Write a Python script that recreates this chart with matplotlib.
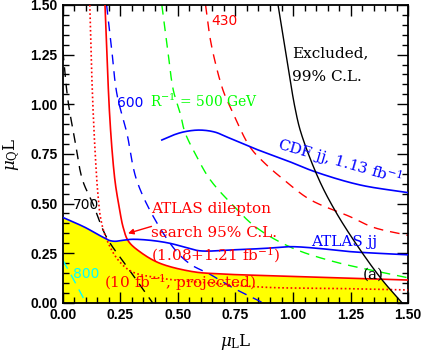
import numpy as np
import matplotlib
matplotlib.use("Agg")
import matplotlib.pyplot as plt

plt.rcParams['font.family'] = 'DejaVu Serif'
plt.rcParams['mathtext.fontset'] = 'dejavuserif'

# ATLAS dilepton 95% C.L. (red solid)
dil_x = [0.183, 0.193, 0.203, 0.215, 0.228, 0.245, 0.262, 0.285, 0.335, 0.42, 0.565, 0.68, 0.89, 1.1, 1.38, 1.5]
dil_y = [1.5, 1.2, 0.95, 0.75, 0.60, 0.48, 0.38, 0.31, 0.257, 0.20, 0.157, 0.146, 0.137, 0.13, 0.12, 0.115]

# 10 fb^-1 projected (red dotted)
proj_x = [0.117, 0.124, 0.132, 0.142, 0.152, 0.165, 0.19, 0.24, 0.30, 0.42, 0.68, 0.89, 1.22, 1.5]
proj_y = [1.5, 1.2, 0.95, 0.72, 0.55, 0.42, 0.32, 0.216, 0.157, 0.125, 0.096, 0.078, 0.072, 0.065]

# ATLAS jj (blue solid)
ajj_x = [0.0, 0.05, 0.10, 0.14, 0.175, 0.20, 0.226, 0.26, 0.30, 0.38, 0.465, 0.53, 0.596, 0.74, 0.887, 0.987, 1.104, 1.248, 1.5]
ajj_y = [0.43, 0.405, 0.378, 0.352, 0.33, 0.315, 0.31, 0.315, 0.32, 0.315, 0.30, 0.28, 0.262, 0.267, 0.275, 0.283, 0.275, 0.258, 0.242]

# CDF jj 1.13 fb^-1 (blue solid)
cdf_x = [0.43, 0.48, 0.53, 0.595, 0.66, 0.713, 0.826, 0.987, 1.096, 1.29, 1.5]
cdf_y = [0.82, 0.845, 0.862, 0.87, 0.86, 0.835, 0.78, 0.71, 0.66, 0.594, 0.555]

# Excluded 99% C.L. (black solid)
exc_x = [0.935, 0.978, 1.009, 1.035, 1.113, 1.19, 1.29, 1.387, 1.474]
exc_y = [1.5, 1.19, 0.98, 0.855, 0.62, 0.45, 0.27, 0.116, 0.0]

# R^-1 contours (dashed)
r430_x = [0.62, 0.645, 0.696, 0.73, 0.813, 0.88, 0.96, 1.074, 1.248, 1.35, 1.5]
r430_y = [1.5, 1.3, 1.07, 0.98, 0.785, 0.70, 0.62, 0.52, 0.434, 0.38, 0.34]
r500_x = [0.43, 0.455, 0.48, 0.51, 0.53, 0.58, 0.64, 0.74, 0.84, 0.99, 1.17, 1.5]
r500_y = [1.5, 1.28, 1.07, 0.955, 0.86, 0.74, 0.62, 0.49, 0.38, 0.28, 0.21, 0.126]
r600_x = [0.19, 0.21, 0.235, 0.278, 0.32, 0.40, 0.495, 0.56, 0.63, 0.68, 0.74, 0.85, 0.87]
r600_y = [1.5, 1.3, 1.05, 0.855, 0.62, 0.42, 0.257, 0.19, 0.15, 0.116, 0.075, 0.012, 0.0]
r700_x = [0.0, 0.022, 0.052, 0.085, 0.13, 0.19, 0.28, 0.39]
r700_y = [1.27, 1.02, 0.82, 0.62, 0.50, 0.33, 0.18, 0.0]
r800_x = [0.0, 0.05, 0.10]
r800_y = [0.215, 0.11, 0.0]


def smooth(x, y, n=25):
    # centripetal Catmull-Rom through the read points, for drawing only
    p = np.column_stack([x, y]).astype(float)
    p = np.vstack([2 * p[0] - p[1], p, 2 * p[-1] - p[-2]])
    out = [p[1]]
    for i in range(1, len(p) - 2):
        p0, p1, p2, p3 = p[i - 1], p[i], p[i + 1], p[i + 2]
        t0 = 0.0
        t1 = t0 + np.linalg.norm(p1 - p0) ** 0.5
        t2 = t1 + np.linalg.norm(p2 - p1) ** 0.5
        t3 = t2 + np.linalg.norm(p3 - p2) ** 0.5
        t = np.linspace(t1, t2, n)[1:, None]
        a1 = (t1 - t) / (t1 - t0) * p0 + (t - t0) / (t1 - t0) * p1
        a2 = (t2 - t) / (t2 - t1) * p1 + (t - t1) / (t2 - t1) * p2
        a3 = (t3 - t) / (t3 - t2) * p2 + (t - t2) / (t3 - t2) * p3
        b1 = (t2 - t) / (t2 - t0) * a1 + (t - t0) / (t2 - t0) * a2
        b2 = (t3 - t) / (t3 - t1) * a2 + (t - t1) / (t3 - t1) * a3
        c = (t2 - t) / (t2 - t1) * b1 + (t - t1) / (t2 - t1) * b2
        out.extend(c)
    out = np.array(out)
    return out[:, 0], out[:, 1]


fig = plt.figure(figsize=(4.22, 3.53), dpi=100)
ax = fig.add_axes([0.149, 0.142, 0.818, 0.844])

dx, dy = smooth(dil_x, dil_y)
px_, py_ = smooth(proj_x, proj_y)
jx, jy = smooth(ajj_x, ajj_y)
cx, cy = smooth(cdf_x, cdf_y)
ex, ey = smooth(exc_x, exc_y)

# yellow: below ATLAS jj, ATLAS dilepton and the excluded line
xx = np.linspace(0, 1.5, 800)
o = np.argsort(jx)
top = np.interp(xx, jx[o], jy[o])
o = np.argsort(dx)
top = np.minimum(top, np.interp(xx, dx[o], dy[o], left=10))
o = np.argsort(ex)
top = np.minimum(top, np.interp(xx, ex[o], ey[o], left=10, right=0))
ax.fill_between(xx, 0, top, color='#ffff00', lw=0, zorder=1)

lw = 1.2
ax.plot(dx, dy, color='red', lw=lw, zorder=3)
ax.plot(px_, py_, color='red', lw=lw, ls=(0, (1, 1.5)), zorder=3)
ax.plot(jx, jy, color='blue', lw=lw, zorder=3)
ax.plot(cx, cy, color='blue', lw=lw, zorder=3)
ax.plot(ex, ey, color='black', lw=1.0, zorder=3)
dash = (0, (7, 5))
ax.plot(*smooth(r430_x, r430_y), color='red', lw=1.0, ls=dash, zorder=2)
ax.plot(*smooth(r500_x, r500_y), color='#00ff00', lw=1.0, ls=dash, zorder=2)
ax.plot(*smooth(r600_x, r600_y), color='blue', lw=1.0, ls=dash, zorder=2)
ax.plot(*smooth(r700_x, r700_y), color='black', lw=1.0, ls=dash, zorder=2)
ax.plot(r800_x, r800_y, color='cyan', lw=1.0, ls=dash, zorder=2)

fs = 11
ax.text(0.995, 1.235, 'Excluded,', fontsize=fs, color='black')
ax.text(0.995, 1.115, '99% C.L.', fontsize=fs, color='black')
ax.text(0.643, 1.40, '430', fontsize=fs - 1, color='red', fontfamily='DejaVu Sans')
ax.text(0.235, 0.985, '600', fontsize=fs - 1, color='blue', fontfamily='DejaVu Sans')
ax.text(0.378, 0.985, r'R$^{-1}$ = 500 GeV', fontsize=fs - 1, color='#00ff00')
ax.text(0.045, 0.475, '700', fontsize=fs - 1, color='black', fontfamily='DejaVu Sans')
ax.text(0.045, 0.125, '800', fontsize=fs - 1, color='cyan', fontfamily='DejaVu Sans')
ax.text(0.385, 0.45, 'ATLAS dilepton', fontsize=fs, color='red')
ax.text(0.385, 0.33, 'search 95% C.L.', fontsize=fs, color='red')
ax.text(0.385, 0.215, r'(1.08+1.21 fb$^{-1}$)', fontsize=fs, color='red')
ax.text(0.18, 0.075, r'(10 fb$^{-1}$, projected)', fontsize=fs, color='red')
ax.text(1.08, 0.285, 'ATLAS jj', fontsize=fs, color='blue')
ax.text(0.93, 0.775, r'CDF jj, 1.13 fb$^{-1}$', fontsize=fs, color='blue',
        rotation=-16, rotation_mode='anchor')
ax.text(1.35, 0.14, '(a)', fontsize=fs, color='black', ha='center', va='center')
ax.annotate('', xy=(0.283, 0.35), xytext=(0.385, 0.385),
            arrowprops=dict(arrowstyle='-|>', color='red', lw=1.0,
                            mutation_scale=8, shrinkA=0, shrinkB=0))

ax.set_xlim(0, 1.5)
ax.set_ylim(0, 1.5)
ticks = [0.0, 0.25, 0.5, 0.75, 1.0, 1.25, 1.5]
tick_labels = ['%.2f' % t for t in ticks]
tfont = dict(family='Liberation Sans', weight='bold', size=10)
ax.set_xticks(ticks)
ax.set_yticks(ticks)
ax.set_xticklabels(tick_labels, fontdict=tfont)
ax.set_yticklabels(tick_labels, fontdict=tfont)
ax.set_xticks(np.arange(0, 1.51, 0.05), minor=True)
ax.set_yticks(np.arange(0, 1.51, 0.05), minor=True)
ax.tick_params(which='both', direction='in', top=True, right=True, width=1.0)
ax.tick_params(which='major', length=8, pad=4)
ax.tick_params(which='minor', length=4)
for s in ax.spines.values():
    s.set_linewidth(1.3)

ax.set_xlabel(r'$\mu_{\rm L}$L', fontsize=12, labelpad=7)
ax.set_ylabel(r'$\mu_{\rm Q}$L', fontsize=12, labelpad=6)

fig.savefig('out.png', dpi=100)
